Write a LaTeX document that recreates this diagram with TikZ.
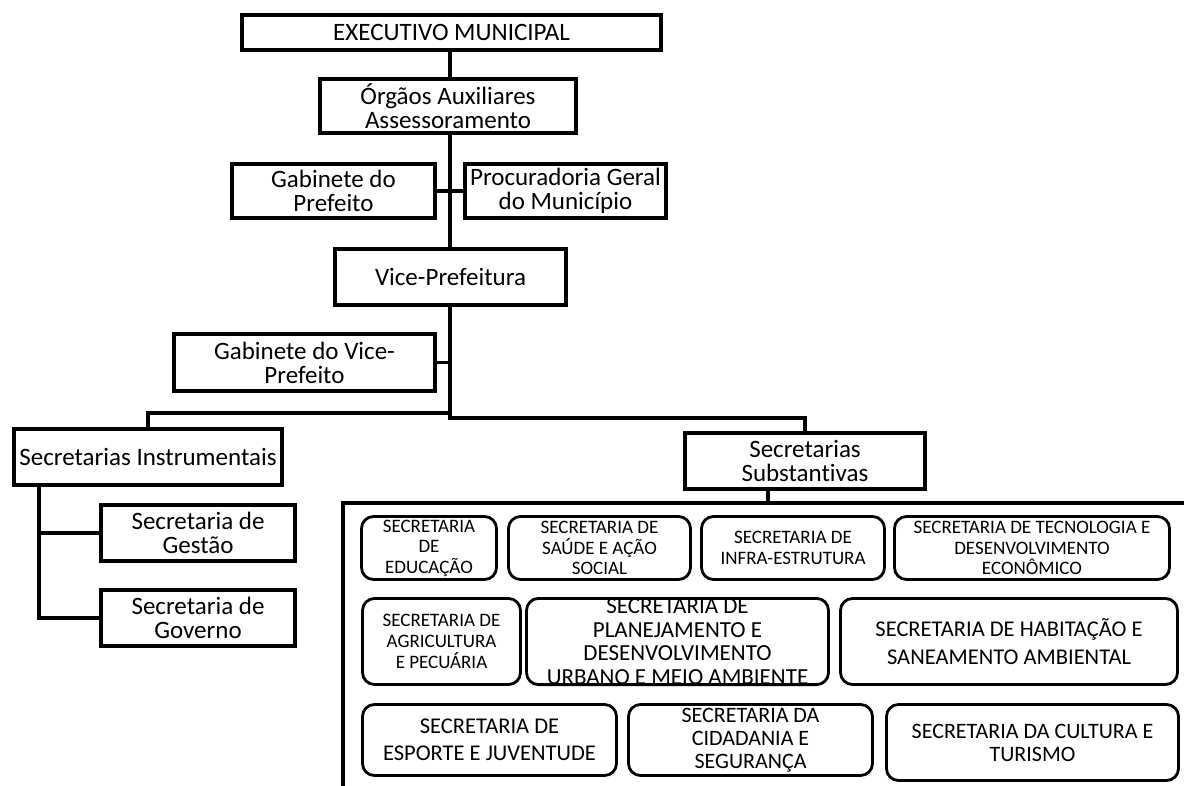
\documentclass[tikz,border=0pt]{standalone}
\usepackage{fontspec}
\setmainfont{Carlito}[Ligatures=NoCommon]
\usetikzlibrary{shadows}
\begin{document}
\begin{tikzpicture}[x=1pt,y=-1pt,
  bigbox/.style={draw=black, line width=4pt, fill=white, inner sep=0pt, outer sep=0pt,
    align=center, font=\fontsize{25}{24}\selectfont,
    drop shadow={shadow xshift=2pt, shadow yshift=-2pt, fill=black, opacity=0.3}},
  rbox/.style={draw=black, line width=2.8pt, fill=white, rounded corners=12pt, inner sep=0pt, outer sep=0pt,
    align=center},
  smalltxt/.style={font=\fontsize{19}{20.5}\selectfont},
  conn/.style={draw=black, line width=3.2pt}
]
\useasboundingbox (0,0) rectangle (1184,785);

% upper hierarchy
\node[bigbox, minimum width=419pt, minimum height=35pt] (exec) at (451.5,32.5) {EXECUTIVO MUNICIPAL};
\node[bigbox, minimum width=256pt, minimum height=54pt] (org) at (448,106) {Órgãos Auxiliares\\Assessoramento};
\node[bigbox, minimum width=203pt, minimum height=54pt] (gab) at (333.5,191) {Gabinete do\\Prefeito};
\node[bigbox, minimum width=201pt, minimum height=54pt] (proc) at (565.5,191) {Procuradoria Geral\\do Município};
\node[bigbox, minimum width=231pt, minimum height=56pt] (vice) at (450.5,277) {Vice-Prefeitura};
\node[bigbox, minimum width=261pt, minimum height=57pt] (gabv) at (304.5,362.5) {Gabinete do Vice-\\Prefeito};
\node[bigbox, minimum width=268pt, minimum height=56pt] (instr) at (148,457) {Secretarias Instrumentais};
\node[bigbox, minimum width=194pt, minimum height=56pt] (gest) at (198,533) {Secretaria de\\Gestão};
\node[bigbox, minimum width=194pt, minimum height=56pt] (gov) at (198,618) {Secretaria de\\Governo};
\node[bigbox, minimum width=240pt, minimum height=56pt] (subst) at (805,461) {Secretarias\\Substantivas};

% junction coordinates
\coordinate (j1) at (450,413);
\coordinate (j2) at (450,418);
\coordinate (ib) at (39,618);
\coordinate (sb) at (768,503);
\coordinate (bt) at (343,503);
\coordinate (bl) at (343,786);
\coordinate (br) at (1185,503);

% connectors
\draw[conn] (exec.south -| j1) -- (org.north -| j1);
\draw[conn] (org.south -| j1) -- (vice.north -| j1);
\draw[conn] (gab.east) -- (proc.west);
\draw[conn] (vice.south -| j1) -- (j2) -- (j2 -| subst.north) -- (subst.north);
\draw[conn] (j1) -- (j1 -| instr.north) -- (instr.north);
\draw[conn] (gabv.east) -- (gabv.east -| j1);
\draw[conn] (instr.south -| ib) -- (ib) -- (gov.west);
\draw[conn] (gest.west) -- (gest.west -| ib);
\draw[conn] (sb |- subst.south) -- (sb);
\draw[draw=black, line width=3.8pt] (bl) -- (bt) -- (br);

% substantive secretariats
\node[rbox, smalltxt, minimum width=135pt, minimum height=63pt] (edu) at (429,548) {SECRETARIA\\DE\\EDUCAÇÃO};
\node[rbox, smalltxt, minimum width=182pt, minimum height=63pt] (sau) at (599.5,548) {SECRETARIA DE\\SAÚDE E AÇÃO\\SOCIAL};
\node[rbox, smalltxt, minimum width=183pt, minimum height=63pt] (inf) at (793,548) {SECRETARIA DE\\INFRA-ESTRUTURA};
\node[rbox, smalltxt, minimum width=275pt, minimum height=63pt] (tec) at (1032,548) {SECRETARIA DE TECNOLOGIA E\\DESENVOLVIMENTO\\ECONÔMICO};

\node[rbox, font=\fontsize{19}{21}\selectfont, minimum width=158pt, minimum height=86pt] (agr) at (441.5,641.5) {SECRETARIA DE\\AGRICULTURA\\E PECUÁRIA};
\node[rbox, font=\fontsize{23}{23.7}\selectfont, minimum width=302pt, minimum height=86pt] (pla) at (677.5,641.5) {SECRETARIA DE\\PLANEJAMENTO E\\DESENVOLVIMENTO\\URBANO E MEIO AMBIENTE};
\node[rbox, font=\fontsize{22.5}{28}\selectfont, minimum width=337pt, minimum height=86pt] (hab) at (1009,641.5) {SECRETARIA DE HABITAÇÃO E\\SANEAMENTO AMBIENTAL};

\node[rbox, font=\fontsize{22.5}{27}\selectfont, minimum width=254pt, minimum height=71pt] (esp) at (489.5,740) {SECRETARIA DE\\ESPORTE E JUVENTUDE};
\node[rbox, font=\fontsize{22}{23}\selectfont, minimum width=244pt, minimum height=71pt] (cid) at (750.5,740) {SECRETARIA DA\\CIDADANIA E\\SEGURANÇA};
\node[rbox, font=\fontsize{22}{23}\selectfont, minimum width=292pt, minimum height=76pt] (cul) at (1032.5,742.5) {SECRETARIA DA CULTURA E\\TURISMO};
\end{tikzpicture}
\end{document}
